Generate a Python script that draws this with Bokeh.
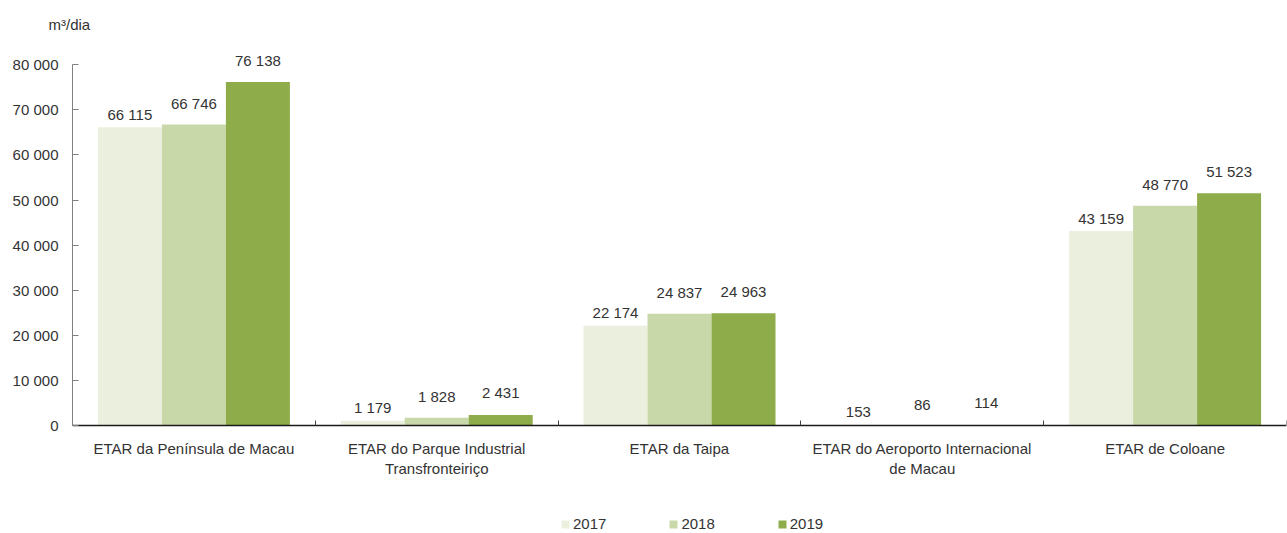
from bokeh.plotting import figure
from bokeh.models import ColumnDataSource, Range1d, FixedTicker, Legend, LegendItem
from bokeh.core.properties import value
from bokeh.embed import file_html
from bokeh.resources import INLINE

categories = ["ETAR da Península de Macau",
              "ETAR do Parque Industrial\nTransfronteiriço",
              "ETAR da Taipa",
              "ETAR do Aeroporto Internacional\nde Macau",
              "ETAR de Coloane"]
years = ["2017", "2018", "2019"]
v2017 = [66115, 1179, 22174, 153, 43159]
v2018 = [66746, 1828, 24837, 86, 48770]
v2019 = [76138, 2431, 24963, 114, 51523]
y_ticks = [0, 10000, 20000, 30000, 40000, 50000, 60000, 70000, 80000]

series = [v2017, v2018, v2019]
colors = ["#EBF0DE", "#C8D8A8", "#8FAC4B"]
label_offsets = [-13, -21, -22]

FONT = "Liberation Sans"
TXT = "#333333"

def fmt(n):
    return f"{n:,}".replace(",", " ")

p = figure(width=1287, height=533, output_backend="svg", toolbar_location=None,
           x_range=Range1d(0, 10), y_range=Range1d(-23800, 84000),
           min_border_left=72, min_border_right=1, min_border_top=44, min_border_bottom=0)
p.outline_line_color = None
p.xgrid.visible = False
p.ygrid.visible = False
p.background_fill_color = "white"
p.border_fill_color = "white"

bw = 2 * 0.2636
centers = [2 * i + 1 for i in range(len(categories))]
items = []
for j, (yr, vals, col) in enumerate(zip(years, series, colors)):
    xs = [c + (j - 1) * bw for c in centers]
    src = ColumnDataSource(dict(x=xs, top=vals, lab=[fmt(v) for v in vals]))
    r = p.vbar(x="x", top="top", bottom=0, width=bw, source=src, fill_color=col, line_color=None)
    p.text(x="x", y="top", text="lab", source=src, text_align="center",
           text_baseline="alphabetic", y_offset=label_offsets[j],
           text_font=value(FONT), text_font_size="15px", text_color=TXT)
    items.append(LegendItem(label=yr, renderers=[r]))

# y axis
ya = p.yaxis[0]
ya.ticker = FixedTicker(ticks=y_ticks, minor_ticks=[])
ya.major_label_overrides = {t: fmt(t) for t in y_ticks}
ya.bounds = (0, 80000)
ya.axis_line_color = "#808080"
ya.major_tick_line_color = "#808080"
ya.major_tick_in = 6
ya.major_tick_out = 0
ya.major_label_standoff = 14
ya.major_label_text_font = FONT
ya.major_label_text_font_size = "15px"
ya.major_label_text_color = TXT

# x axis, pinned at y = 0 inside the frame
xa = p.xaxis[0]
xa.fixed_location = 0
xa.ticker = FixedTicker(ticks=centers, minor_ticks=list(range(0, 11, 2)))
xa.major_label_overrides = {c: lab for c, lab in zip(centers, categories)}
xa.axis_line_color = "#1a1a1a"
xa.axis_line_width = 1.5
xa.major_tick_in = 0
xa.major_tick_out = 0
xa.minor_tick_in = 5
xa.minor_tick_out = 0
xa.minor_tick_line_color = "#404040"
xa.major_label_standoff = 14
xa.major_label_text_font = FONT
xa.major_label_text_font_size = "15px"
xa.major_label_text_color = TXT

# title (unit)
p.title.text = "m³/dia"
p.title.align = "left"
p.title.offset = -24
p.title.standoff = 27
p.title.text_font = FONT
p.title.text_font_size = "15px"
p.title.text_font_style = "normal"
p.title.text_color = TXT

legend = Legend(items=items, orientation="horizontal", location=(488, 1),
                glyph_width=10, glyph_height=10, label_standoff=3, spacing=62,
                label_text_font=FONT, label_text_font_size="15px", label_text_color=TXT,
                padding=0, margin=0, border_line_color=None, background_fill_alpha=0,
                label_height=16)
p.add_layout(legend, "center")

open("out.html", "w").write(file_html(p, INLINE))
